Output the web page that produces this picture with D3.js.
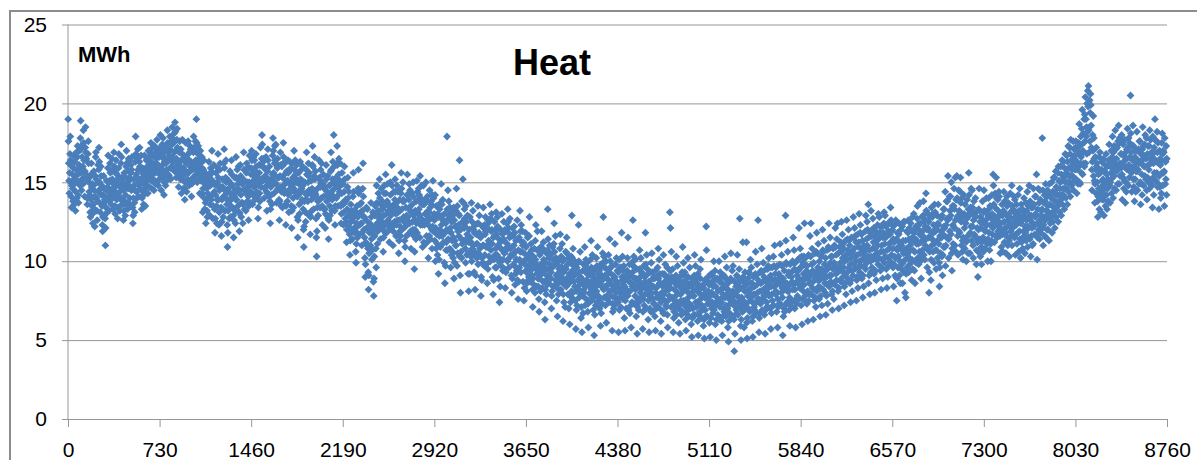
<!DOCTYPE html>
<html lang="en">

<head>
    <meta charset="UTF-8">
    <title>Heat</title>
    <style>
        body { margin: 0; background: #fff; }
        svg text { font-family: "Liberation Sans", Arial, sans-serif; fill: #000; }
    </style>
</head>

<body>
    <script src="https://d3js.org/d3.v7.min.js"></script>
    <div id="chart"></div>
    <script>
        const WIDTH = 1197
        const HEIGHT = 460
        const PLOT = { LEFT: 68, RIGHT: 1167, TOP: 24.5, BOTTOM: 419 }

        const xTicks = [0, 730, 1460, 2190, 2920, 3650, 4380, 5110, 5840, 6570, 7300, 8030, 8760]
        const yTicks = [0, 5, 10, 15, 20, 25]

        // heat load in MWh, every 2.4 h, one list per 730 h block
        const jan = [
            19.0,17.6,16.2,15.1,14.3,15.6,16.8,17.9,16.4,15.0, 14.1,13.4,14.8,16.0,15.5,14.6,13.8,15.9,16.7,15.2,
            13.6,14.9,16.3,15.4,13.2,14.4,15.8,16.9,15.1,14.0, 16.6,17.3,15.5,14.2,13.7,15.0,16.1,17.0,15.9,14.8,
            17.8,18.9,17.1,15.6,14.5,15.2,16.6,17.4,16.0,14.9, 18.3,17.5,16.4,15.3,14.1,15.7,17.2,18.5,16.9,15.5,
            16.5,15.2,14.0,13.6,15.1,16.8,17.6,16.2,15.0,14.4, 15.3,14.2,13.1,12.8,13.9,15.5,16.2,14.7,13.5,14.9,
            13.0,12.4,13.6,14.8,15.7,14.5,13.3,12.2,14.1,15.4, 16.6,16.9,15.2,14.0,13.2,12.6,13.8,15.0,16.1,14.4,
            15.8,17.2,16.3,15.0,13.7,13.1,14.6,16.0,15.4,14.2, 14.8,13.5,12.3,11.9,12.8,14.2,15.4,14.6,13.7,12.9,
            13.9,12.7,11.0,12.1,13.4,14.5,15.1,14.0,13.1,14.7, 15.9,16.7,15.0,14.1,13.2,13.8,15.1,16.2,15.6,14.3,
            14.5,13.6,14.2,15.7,16.5,15.2,14.0,13.3,14.9,15.8, 16.9,16.0,14.7,13.5,13.0,14.4,15.6,16.4,15.1,13.9,
            15.5,14.2,12.7,13.4,14.8,15.9,16.8,15.3,14.1,13.2, 14.4,13.5,14.9,16.2,17.4,16.6,15.3,14.6,13.8,15.0,
            13.9,12.6,13.2,14.5,15.6,14.8,13.6,12.9,14.2,15.3, 16.0,17.0,16.2,14.8,13.7,13.3,14.6,15.7,16.5,15.1,
            16.4,15.3,14.0,13.6,14.7,16.1,15.6,14.5,15.8,16.6, 14.6,13.4,12.4,12.9,14.0,15.2,14.8,13.7,13.1,14.5,
            16.3,17.9,16.8,15.5,14.4,14.0,15.3,16.5,17.1,15.8, 15.0,14.1,14.8,16.3,17.2,16.0,15.2,14.6,15.9,16.7,
            14.5,13.3,14.0,15.6,15.9,15.1,14.2,13.6,14.9,15.4, 16.7,15.8,14.6,13.5,14.3,15.5,16.4,15.1,14.8,16.0,
            15.3,14.3,15.6,17.0,16.6,15.4,14.7,16.1,16.9,15.8, 16.9,17.5,16.3,15.1,14.6,15.5,16.7,17.2,16.0,15.2,
            15.7,14.5,15.9,17.3,16.8,15.6,14.9,16.2,16.5,15.0, 16.2,17.7,17.0,15.9,15.1,14.8,16.0,17.1,16.6,15.5
        ]
        const feb = [
            15.6,16.9,18.0,17.2,15.9,14.5,15.3,16.6,17.4,16.1, 16.8,17.8,16.6,15.4,14.2,15.0,16.3,17.1,15.7,14.8,
            17.3,16.2,15.1,15.8,17.0,18.3,17.5,16.4,15.5,16.9, 16.5,15.4,16.7,17.9,17.1,15.9,15.2,16.4,17.6,16.0,
            17.4,18.5,17.8,16.6,15.8,16.3,17.5,18.1,16.9,15.7, 18.8,18.2,17.0,15.9,15.3,16.5,17.7,18.4,17.2,16.1,
            17.0,15.8,14.7,15.5,16.9,17.6,16.3,15.2,16.0,17.1, 15.2,14.3,15.6,16.8,17.7,16.5,15.4,14.6,15.9,16.7,
            15.8,14.6,13.9,15.0,16.4,17.5,16.2,15.1,14.4,15.6, 16.4,15.2,16.5,17.6,16.8,15.6,14.8,15.7,16.9,17.3,
            16.0,17.1,16.3,15.0,14.1,14.9,16.2,17.0,15.8,15.3, 16.9,17.9,17.2,16.0,15.1,15.9,17.0,17.6,16.4,15.5,
            19.0,17.5,16.2,15.0,15.7,16.8,17.3,16.1,15.2,16.5, 15.5,14.3,15.8,17.0,16.2,15.1,14.2,15.4,16.6,15.9,
            14.3,13.1,14.6,15.8,16.4,15.2,14.0,13.3,14.9,15.6, 13.7,12.4,13.9,15.1,14.6,13.2,12.8,14.3,15.4,14.0,
            15.0,16.3,15.4,14.1,12.9,13.6,14.8,15.9,15.2,13.9, 15.7,17.0,15.6,14.2,12.7,13.5,14.9,16.1,15.0,14.4,
            13.3,11.8,12.7,14.2,15.6,14.8,13.5,12.4,13.9,15.0, 15.9,16.8,15.3,13.9,12.3,13.1,14.5,15.8,16.2,14.7,
            14.6,13.4,11.6,12.5,13.9,15.2,14.7,13.3,12.8,14.1, 16.2,17.1,15.9,14.5,13.2,14.0,15.3,16.4,15.0,14.3,
            13.6,12.3,10.9,11.8,13.2,14.6,15.1,13.9,12.7,13.8, 15.7,14.3,12.8,13.5,14.9,16.4,15.5,14.0,13.4,14.8,
            14.2,12.9,11.5,12.6,14.1,15.3,14.5,13.2,12.4,13.9, 16.6,15.3,13.9,14.4,15.8,14.6,13.5,14.9,16.0,15.1,
            13.1,11.9,13.0,14.5,16.1,15.4,14.2,12.8,13.7,15.0, 14.9,13.7,12.4,13.6,15.2,16.9,15.8,14.5,13.3,14.6,
            15.8,14.5,13.2,14.3,15.6,16.2,15.0,13.8,14.7,15.9, 14.1,12.6,13.5,15.0,16.7,15.9,14.8,13.7,14.4,15.5
        ]
        const mar = [
            15.9,17.0,16.4,15.0,13.6,14.2,15.5,16.6,15.8,14.7, 16.4,15.2,13.9,14.1,15.3,16.8,16.0,14.9,14.4,15.6,
            15.3,14.1,12.7,13.4,14.8,16.1,15.6,14.3,13.8,15.0, 17.2,16.1,14.7,15.2,16.5,18.0,17.4,16.0,15.1,16.3,
            16.5,15.3,14.0,14.6,15.9,15.4,14.7,15.8,16.6,15.1, 14.4,13.2,14.3,15.7,17.1,16.4,15.2,14.1,14.9,16.0,
            15.1,13.8,12.4,13.3,14.7,15.2,14.2,13.6,14.8,15.5, 16.7,17.8,17.0,15.6,14.3,15.0,16.2,17.3,16.4,15.4,
            17.4,16.2,14.9,13.7,14.5,15.9,16.5,15.3,14.6,16.0, 15.3,13.9,12.6,13.8,15.4,16.9,16.1,14.7,13.5,14.4,
            16.0,14.7,13.4,14.6,16.2,17.5,16.6,15.2,14.3,15.5, 16.2,14.9,13.6,12.3,13.5,15.0,15.7,14.4,13.8,15.1,
            16.4,15.6,14.2,13.1,14.3,15.7,16.3,15.0,14.6,15.9, 14.8,13.5,12.1,13.2,14.7,16.2,15.3,14.0,13.4,14.6,
            17.0,15.8,14.4,15.0,16.4,15.5,14.3,15.2,16.1,15.0, 14.1,12.8,11.5,12.6,14.2,15.6,14.9,13.6,13.0,14.5,
            16.3,15.2,13.7,14.4,15.8,14.6,13.9,15.1,16.0,14.8, 13.3,12.0,10.9,12.2,13.8,15.0,14.3,13.1,12.5,13.9,
            15.8,16.9,15.5,14.2,13.0,13.8,15.0,16.2,15.4,14.5, 15.6,14.4,12.9,11.7,12.8,14.3,15.1,13.9,13.2,14.6,
            16.1,17.3,16.0,14.5,13.3,14.1,15.4,16.6,15.2,14.3, 15.7,14.2,12.7,11.5,10.3,11.9,13.4,14.6,13.8,12.9,
            13.9,15.2,16.4,15.3,13.9,13.4,14.7,15.8,14.9,14.0, 16.2,15.0,13.5,12.3,13.4,14.9,15.5,14.1,13.3,14.7,
            14.6,13.3,12.1,13.0,14.5,16.1,15.2,13.8,12.9,14.2, 15.4,14.1,12.7,11.4,12.6,14.0,14.8,13.5,12.9,14.3,
            15.7,16.9,15.8,14.4,13.2,13.9,15.2,16.3,15.0,14.1, 18.0,16.0,14.6,13.2,12.3,13.5,14.9,16.1,15.3,14.0,
            16.2,17.3,16.1,14.7,13.5,14.2,15.5,16.5,15.0,14.4, 15.1,16.2,14.8,13.5,12.4,13.0,14.3,15.6,14.9,13.7
        ]
        const apr = [
            14.9,13.6,12.3,13.1,14.4,16.0,15.2,13.8,12.7,13.9, 13.8,12.5,11.2,12.0,13.3,14.7,15.3,14.0,12.9,12.2,
            14.4,13.1,11.7,10.4,11.3,12.8,13.6,12.5,11.9,13.2, 12.6,11.4,12.7,14.1,15.6,14.4,13.2,12.1,11.8,13.0,
            13.2,11.9,10.6,9.9,11.1,12.4,13.5,12.2,11.5,12.8, 14.6,15.8,14.3,12.9,11.7,12.3,13.6,14.5,13.1,12.4,
            13.7,12.4,11.0,11.8,13.2,14.6,16.2,14.1,12.8,12.0, 12.8,11.5,10.2,9.0,9.8,11.2,12.6,13.4,12.1,11.0,
            13.3,12.1,10.8,9.3,8.2,9.1,10.5,11.8,12.4,10.9, 11.0,12.3,13.7,12.8,11.4,10.1,10.7,12.0,13.1,11.7,
            8.7,7.8,8.9,10.3,11.6,12.9,13.5,12.2,10.8,9.6, 14.8,13.7,12.4,11.1,11.9,13.2,14.3,13.0,12.0,12.7,
            15.2,14.0,12.7,11.4,12.2,13.6,14.6,13.3,12.5,13.8, 13.3,12.0,10.6,11.5,12.9,14.3,14.8,13.5,12.3,11.8,
            15.5,14.3,13.0,11.8,12.5,13.8,14.9,13.6,12.6,13.2, 13.6,12.4,11.2,12.1,13.5,15.0,14.2,12.9,12.0,13.3,
            16.1,14.8,13.5,12.2,11.0,11.9,13.2,14.4,13.6,12.5, 13.9,15.2,14.4,13.0,11.6,12.3,13.7,14.8,13.4,12.6,
            14.4,13.1,11.8,10.5,11.3,12.6,13.9,13.2,12.2,11.6, 14.3,15.6,14.6,13.3,12.0,12.6,13.8,15.0,13.9,12.8,
            13.8,12.5,11.3,10.0,10.9,12.2,13.4,12.7,11.6,12.9, 14.2,15.5,14.2,12.8,11.7,12.5,13.9,14.9,13.4,12.4,
            14.5,13.2,11.9,10.8,11.8,13.1,14.3,13.6,12.5,12.0, 15.0,14.1,12.9,11.6,9.5,10.6,12.0,13.2,12.6,11.4,
            13.8,12.4,15.1,11.8,14.4,13.1,12.6,13.9,14.6,13.3, 14.2,12.9,11.5,15.4,12.3,14.0,13.7,12.7,14.8,13.6,
            12.3,10.9,13.6,12.5,14.8,11.2,13.6,12.3,13.8,13.0, 13.9,11.1,15.0,12.6,11.6,13.8,12.5,14.1,12.9,13.2,
            10.2,11.3,13.1,11.6,14.5,12.2,13.4,11.4,12.7,13.8, 13.6,12.0,10.8,14.2,12.2,15.1,11.9,14.0,12.8,13.0
        ]
        const may = [
            12.6,11.3,14.2,10.0,12.1,10.8,13.5,12.9,11.7,11.1, 10.4,13.0,11.7,9.2,12.8,10.1,11.6,13.3,12.0,10.9,
            13.7,11.0,14.9,12.3,13.6,11.6,12.9,13.9,12.6,11.8, 11.2,12.5,9.9,13.0,8.6,11.8,9.7,12.4,10.7,11.2,
            12.0,17.9,13.3,10.7,14.5,11.4,12.7,13.8,12.9,11.9, 10.8,13.4,12.1,9.6,11.8,13.1,10.4,12.5,11.3,10.6,
            12.9,10.2,11.5,13.4,8.9,12.6,9.9,11.3,12.2,11.0, 13.2,11.0,14.6,12.2,9.7,13.5,10.5,11.9,13.0,12.3,
            11.6,12.9,16.4,10.3,9.1,8.0,12.0,10.6,11.4,10.2, 13.8,11.1,12.5,15.2,11.3,13.7,12.4,12.1,13.3,12.7,
            12.2,10.8,9.9,13.5,11.2,12.5,10.4,11.7,12.9,11.5, 9.2,10.5,8.1,11.2,12.0,9.2,12.8,10.6,11.5,10.3,
            11.2,13.7,10.0,12.5,10.8,12.1,13.2,11.0,12.0,10.4, 9.3,11.8,10.6,8.2,12.3,9.1,10.5,11.7,11.1,10.2,
            11.1,12.4,13.5,9.8,12.4,10.5,11.8,12.9,11.6,10.8, 10.3,11.5,7.8,9.0,11.6,8.8,10.2,12.2,11.0,9.9,
            13.4,11.0,12.1,9.7,12.3,10.4,11.7,12.8,11.9,10.9, 9.8,12.3,11.0,8.6,10.9,9.5,12.6,11.3,10.3,12.0,
            12.5,11.2,13.6,10.0,12.7,10.7,11.9,13.0,12.0,11.1, 9.0,10.2,7.9,11.5,8.8,10.1,12.5,11.6,10.4,9.6,
            12.0,10.8,13.1,9.6,11.7,10.4,12.8,12.2,11.0,10.1, 8.9,11.4,10.2,7.4,9.9,8.4,11.2,12.0,10.8,9.7,
            11.9,13.0,10.7,11.7,9.4,10.1,11.4,12.5,11.3,10.5, 9.5,12.0,8.3,10.8,9.3,11.9,10.7,12.4,11.1,10.0,
            13.3,12.5,10.9,12.1,9.6,10.2,11.5,12.7,11.7,10.8, 10.4,11.6,9.1,8.0,10.9,8.9,12.1,11.6,10.4,9.8,
            11.0,12.2,9.7,11.8,8.5,10.6,9.2,11.3,10.1,9.4, 10.1,12.6,8.8,11.4,7.6,10.7,8.7,11.5,9.6,10.1,
            13.2,10.6,11.9,9.3,12.3,9.9,11.2,10.6,11.9,11.0, 8.7,11.2,10.0,7.5,10.5,8.3,9.8,11.0,11.8,9.4
        ]
        const jun = [
            10.9,9.3,8.1,8.6,10.2,11.5,9.7,8.8,10.4,9.0, 11.6,12.8,10.5,9.4,8.7,10.0,11.1,9.8,10.7,9.5,
            9.1,8.2,7.1,8.9,10.3,9.6,8.5,10.8,9.9,8.0, 11.3,10.1,12.3,9.6,8.4,9.2,10.7,11.9,9.4,8.9,
            8.4,9.7,7.6,6.8,8.9,10.4,9.3,8.1,10.9,9.5, 10.6,11.9,9.2,8.3,9.9,10.8,8.7,11.2,10.1,9.4,
            9.6,7.4,6.3,8.2,9.9,8.8,7.9,10.5,9.1,8.5, 10.7,13.3,11.4,9.5,8.6,10.2,9.0,11.0,9.8,10.5,
            10.4,8.9,9.3,7.0,7.8,8.1,9.6,10.9,8.4,10.1, 9.7,11.1,12.4,10.6,9.8,8.5,11.6,8.8,10.2,9.1,
            7.5,8.3,9.8,6.5,9.2,10.0,7.9,8.6,9.5,8.8, 9.3,10.8,11.7,9.0,8.2,10.3,9.6,8.7,11.1,10.0,
            8.9,6.2,7.9,9.3,7.4,10.1,8.5,9.6,7.1,8.8, 10.6,9.5,8.4,11.5,10.5,8.7,9.8,7.9,9.0,10.2,
            7.0,8.6,9.2,6.0,7.8,9.9,7.4,8.9,10.3,8.1, 12.9,10.2,9.4,8.0,10.8,7.6,9.7,8.7,9.1,10.0,
            8.4,7.5,9.2,5.7,8.1,6.9,9.6,7.2,9.9,8.8, 9.9,8.2,12.3,10.0,7.7,9.3,8.5,10.6,9.0,7.9,
            6.4,7.1,8.9,5.5,8.6,7.8,9.4,6.7,9.8,8.2, 8.0,9.8,10.9,7.2,8.4,9.3,10.1,7.6,8.8,9.6,
            9.9,8.6,6.8,7.3,5.8,9.1,7.5,8.4,9.4,8.0, 7.9,10.1,8.7,11.3,9.6,7.5,8.2,10.4,9.2,8.6,
            6.9,9.0,7.7,5.3,8.3,6.6,9.5,8.0,7.2,8.8, 10.2,8.1,9.7,7.4,10.9,8.5,9.2,7.8,8.9,9.5,
            9.4,7.0,7.6,8.6,5.9,9.8,6.7,8.4,9.1,7.3, 8.8,10.5,9.9,12.8,8.2,10.3,7.7,9.6,9.1,8.4,
            7.2,8.3,10.0,6.1,9.5,8.9,7.6,8.5,9.2,7.9, 10.4,8.8,7.4,9.3,11.4,8.1,10.0,8.6,9.6,7.8,
            8.5,9.7,5.6,7.3,6.8,9.1,8.2,7.0,8.9,7.7, 9.0,11.1,8.3,9.8,7.3,8.0,10.2,8.7,7.6,9.4
        ]
        const jul = [
            8.6,7.4,9.3,5.5,8.3,10.1,6.9,7.7,9.6,8.0, 7.1,9.6,8.2,11.8,9.0,8.8,10.3,7.6,9.4,8.5,
            9.7,7.9,6.4,8.4,5.6,7.5,8.8,9.1,7.0,8.2, 8.1,9.4,10.2,7.8,11.5,8.9,6.9,9.2,8.7,9.8,
            6.7,8.1,9.1,7.2,5.8,8.6,9.9,7.4,8.4,9.3, 12.6,9.7,8.5,10.3,7.3,8.9,9.6,7.8,10.1,8.2,
            8.9,6.5,7.7,9.5,5.4,7.1,8.4,8.7,7.5,6.9, 7.4,9.5,10.7,8.3,9.0,8.0,10.2,7.7,8.6,9.3,
            9.2,8.3,5.7,6.8,7.6,9.7,8.5,7.2,9.0,7.9, 8.7,11.8,9.8,7.0,9.1,10.4,8.2,9.5,7.9,8.4,
            6.3,7.5,8.7,5.5,8.2,7.0,9.3,7.8,8.5,6.8, 9.9,8.0,10.5,9.3,6.8,8.9,7.6,8.4,7.3,9.0,
            7.3,8.9,6.5,9.4,5.6,8.0,8.3,7.0,9.0,7.7, 8.4,9.6,7.1,10.8,8.9,7.7,10.1,8.6,9.2,7.9,
            8.6,6.2,7.4,5.4,6.9,8.0,9.2,7.6,8.4,6.7, 10.4,7.9,9.2,6.7,8.7,7.5,9.8,8.1,7.2,9.0,
            7.1,8.4,9.6,6.6,5.8,7.5,9.0,8.2,8.8,7.8, 8.6,13.1,9.4,12.1,8.3,7.1,10.6,9.0,7.7,8.9,
            9.5,7.6,5.5,8.8,6.4,6.8,8.2,7.3,8.6,7.0, 7.8,9.1,10.3,6.6,8.5,7.4,9.7,8.0,7.1,8.8,
            6.1,8.5,7.3,9.0,5.4,6.9,7.9,7.5,8.3,6.6, 8.0,9.3,6.8,10.9,8.7,7.5,9.9,8.3,7.2,9.1,
            9.3,7.5,6.3,8.7,5.6,6.7,8.1,7.1,8.5,6.9, 10.2,9.0,7.7,6.5,8.4,7.3,9.6,7.9,7.0,8.6,
            7.2,6.0,8.4,5.2,8.9,6.4,7.8,7.0,8.1,6.6, 7.8,9.1,10.4,8.6,6.6,9.7,7.4,8.2,7.1,8.9,
            8.6,7.4,6.2,9.2,5.3,6.6,8.0,7.2,8.4,6.8, 9.5,8.9,7.6,10.1,6.4,8.3,7.2,7.8,6.9,8.5,
            7.1,5.9,8.3,6.3,5.1,7.7,8.8,6.9,8.0,6.5, 12.2,10.7,8.9,7.7,6.5,7.3,9.0,8.1,7.5,8.6
        ]
        const aug = [
            8.5,6.1,7.3,5.2,7.8,6.4,9.2,8.0,7.0,8.7, 7.4,9.1,6.7,8.4,7.9,10.0,6.9,8.8,7.2,9.4,
            6.0,8.4,7.2,5.0,6.3,7.7,8.9,7.5,6.6,8.1, 8.8,7.5,10.0,6.3,8.7,7.1,9.3,8.2,7.6,9.0,
            7.4,6.2,8.6,5.3,6.5,7.9,8.3,7.0,9.1,6.8, 9.0,10.3,7.7,8.9,6.5,7.2,8.5,9.6,7.9,8.2,
            7.0,5.8,8.2,4.9,6.2,7.6,8.7,6.7,7.9,7.3, 8.9,10.5,7.6,8.8,6.4,9.4,7.3,8.1,9.7,7.8,
            7.5,6.3,4.3,8.7,5.4,6.6,8.0,7.1,8.4,6.9, 9.1,7.8,10.4,9.0,6.6,7.4,8.6,8.2,9.5,7.7,
            12.7,8.3,7.1,5.9,5.0,6.3,7.7,8.8,7.4,6.8, 11.2,9.0,7.5,8.4,5.8,6.9,8.1,9.3,7.2,8.6,
            8.5,7.3,11.2,6.1,5.1,6.4,7.8,8.9,7.0,8.2, 9.3,8.0,9.2,6.8,7.5,10.1,8.6,7.7,9.6,8.3,
            8.6,6.2,7.4,5.2,6.5,7.9,9.0,7.1,8.4,6.9, 7.9,9.2,10.6,6.7,9.1,7.4,8.5,9.8,8.0,7.6,
            12.6,8.8,7.6,5.5,6.4,6.7,8.1,9.3,7.3,8.6, 9.4,8.1,10.8,9.3,6.9,7.6,8.7,9.9,8.2,7.8,
            9.0,6.6,7.8,5.4,8.3,6.9,9.5,8.7,7.4,7.1, 8.0,9.5,7.1,9.7,8.3,10.2,7.8,8.9,9.6,8.5,
            7.0,9.1,5.7,8.4,6.7,7.9,9.6,7.5,8.8,7.2, 10.3,7.2,9.7,8.4,11.0,8.8,9.2,7.9,8.1,9.6,
            8.5,6.8,9.7,8.0,5.8,7.6,7.1,8.9,9.2,7.3, 8.7,9.8,11.1,7.3,8.5,9.0,8.0,10.4,9.7,8.3,
            7.7,5.3,8.9,6.5,8.2,7.0,9.4,6.8,8.6,7.2, 12.9,11.3,9.9,9.8,8.6,7.4,8.1,10.6,8.4,9.1,
            9.3,8.1,6.9,7.7,5.9,9.8,7.2,8.6,7.4,9.0, 9.3,7.5,8.7,10.0,8.2,11.5,9.9,8.5,10.7,9.5,
            7.0,8.2,9.9,5.8,7.6,9.4,7.3,8.7,9.1,7.8, 8.6,10.1,9.4,8.9,12.1,7.6,10.2,8.3,10.8,9.6
        ]
        const sep = [
            9.6,7.2,8.4,10.3,6.0,8.8,7.6,9.9,8.1,9.2, 10.3,8.5,12.4,9.0,7.8,10.2,8.9,9.7,7.4,9.4,
            7.3,9.7,8.1,6.2,8.9,10.4,7.5,9.2,8.6,7.9, 11.6,9.1,10.3,12.4,8.6,7.9,9.8,10.8,8.3,9.4,
            8.7,6.3,9.9,7.5,9.1,8.2,10.5,7.7,8.9,7.1, 10.6,9.3,11.8,8.1,10.5,8.8,9.6,11.1,9.0,8.4,
            7.6,10.0,8.8,6.5,9.2,7.8,8.3,10.3,9.5,7.2, 9.4,12.0,10.7,8.2,10.6,8.9,11.3,9.1,9.8,8.6,
            8.0,10.2,6.6,9.4,7.8,9.0,10.7,8.5,7.3,9.6, 10.9,9.6,12.4,8.4,10.8,9.1,11.5,9.9,8.7,10.3,
            9.1,7.9,10.3,6.9,8.1,9.5,10.8,8.6,7.6,9.9, 11.0,9.7,8.5,12.1,10.9,9.2,10.4,8.8,11.4,9.5,
            12.4,9.3,8.1,10.5,7.0,8.3,9.7,10.9,8.8,9.4, 9.9,11.2,8.7,12.5,10.6,9.4,11.7,10.2,9.0,11.1,
            9.6,10.8,7.2,8.4,10.0,8.6,11.3,9.2,7.9,10.4, 12.6,10.1,9.3,11.4,8.9,10.7,12.0,9.6,11.3,10.5,
            11.0,8.6,9.8,7.4,8.8,10.2,11.5,9.4,8.1,10.6, 10.4,9.1,12.8,11.5,9.8,10.8,12.1,9.5,11.6,10.3,
            10.0,11.2,7.5,8.8,9.0,10.4,11.7,8.3,9.6,10.9, 11.2,13.0,10.0,9.3,11.8,12.3,10.5,9.7,10.8,11.7,
            8.9,10.1,11.3,7.7,9.1,10.5,8.4,11.0,9.7,10.2, 10.2,11.9,9.5,12.9,10.7,11.4,9.9,12.5,11.0,12.0,
            10.3,13.6,8.6,11.5,9.1,10.7,7.9,11.8,10.0,9.3, 13.2,10.3,11.6,9.6,12.0,10.8,12.7,10.1,11.2,12.1,
            9.2,11.6,8.0,10.4,10.8,9.4,11.9,8.8,10.1,11.3, 10.5,12.3,11.0,9.8,13.0,11.4,10.2,12.8,11.7,12.2,
            11.8,9.4,10.6,8.2,9.6,11.0,12.2,10.1,8.9,11.5, 11.8,10.6,12.4,13.1,9.9,11.1,12.9,10.3,11.5,12.2,
            9.5,11.6,8.3,10.7,12.3,9.0,10.2,11.9,9.7,11.1, 10.8,12.5,11.7,10.0,13.4,11.2,12.6,10.4,11.9,12.3
        ]
        const oct = [
            12.0,10.8,9.6,11.4,8.4,9.8,11.2,10.3,12.3,9.1, 10.2,12.6,9.0,11.4,7.5,8.9,10.7,11.8,9.6,10.9,
            10.3,11.7,12.4,9.1,11.2,10.0,8.6,10.8,12.0,9.5, 11.0,9.8,12.2,8.6,9.9,11.3,10.5,12.5,9.3,10.7,
            12.5,8.0,10.1,11.3,7.7,9.2,10.8,11.9,9.6,10.4, 10.5,11.8,12.6,9.3,11.4,10.2,12.1,9.8,11.0,10.7,
            12.4,10.0,11.2,8.8,10.1,11.5,12.8,9.5,10.7,11.9, 13.0,11.8,9.4,10.6,8.6,10.0,11.4,12.2,9.9,11.1,
            11.3,12.7,13.5,10.2,12.3,11.1,9.8,12.0,10.6,11.7, 13.7,12.4,10.0,11.2,8.9,10.3,11.6,12.8,10.7,11.9,
            11.6,12.9,13.8,10.4,12.5,11.3,10.1,12.2,11.0,12.6, 14.3,13.2,10.8,12.0,9.6,10.8,12.1,13.0,11.5,12.5,
            8.0,9.3,10.6,11.9,12.8,11.5,8.8,10.1,13.4,11.0, 11.4,12.8,13.0,10.6,11.8,12.3,9.9,11.1,13.6,12.0,
            13.1,11.9,10.7,9.5,10.7,12.0,12.9,11.3,10.2,12.4, 13.6,12.3,11.1,9.9,8.4,9.6,11.6,12.8,10.5,11.9,
            12.7,11.5,10.3,12.9,9.1,10.4,11.7,13.3,10.9,12.2, 13.3,12.1,10.9,14.4,9.7,11.0,12.3,13.8,11.5,12.7,
            13.8,12.6,15.4,11.4,10.2,11.4,12.7,14.1,11.9,13.2, 14.1,12.9,11.7,15.0,10.5,9.4,10.8,13.5,12.3,11.1,
            12.2,13.5,14.6,13.3,12.1,11.0,15.3,12.6,10.6,13.9, 13.9,15.4,14.0,12.8,11.6,10.4,12.9,14.5,11.9,13.2,
            11.8,13.1,14.4,15.3,13.7,12.5,11.0,12.7,14.0,10.6, 11.3,10.1,11.5,12.9,14.2,13.0,12.1,10.8,13.6,12.4,
            12.4,11.2,10.0,11.3,12.7,13.9,12.9,11.6,10.5,13.3, 15.6,14.2,12.9,11.7,10.5,11.8,13.4,12.2,14.6,11.3,
            13.1,14.5,13.4,12.2,11.0,10.2,12.6,13.8,11.7,12.9, 11.6,12.9,14.0,12.8,11.5,9.8,10.7,13.2,12.1,11.2,
            9.0,10.6,12.0,13.3,14.6,13.2,11.4,12.5,10.3,12.8, 12.1,10.9,9.8,11.2,12.6,13.8,12.4,11.5,10.6,13.1
        ]
        const nov = [
            14.5,13.2,12.0,10.8,11.9,13.1,12.6,11.3,14.0,12.3, 12.3,11.1,10.0,11.4,12.8,14.0,13.3,11.8,10.7,12.9,
            13.5,12.3,11.1,10.0,11.3,12.7,14.2,13.0,11.7,12.1, 15.5,14.8,13.6,12.4,11.2,12.3,13.4,14.3,12.8,11.6,
            15.3,14.0,12.7,11.5,12.6,13.9,11.9,13.2,12.2,14.4, 14.1,12.9,11.6,10.5,11.8,13.0,12.4,10.9,12.0,13.6,
            12.9,11.7,10.6,11.9,13.2,14.4,12.5,11.2,13.8,12.1, 13.0,11.8,10.5,11.6,12.9,14.1,13.5,12.2,11.0,12.6,
            13.7,12.5,11.3,10.3,11.5,12.8,14.3,13.1,11.9,12.2, 12.2,14.8,11.0,13.5,12.1,11.6,13.3,12.7,14.1,12.4,
            11.5,13.9,12.7,10.4,13.0,11.7,12.3,13.6,11.1,12.9, 13.0,11.8,14.2,12.5,10.6,13.2,11.9,14.6,11.4,12.8,
            10.2,12.4,13.6,11.2,12.6,11.4,13.3,10.8,12.9,11.9, 12.8,14.0,11.6,13.1,10.5,12.2,11.8,13.7,11.3,12.6,
            13.2,12.0,14.4,10.9,12.2,13.5,11.5,12.7,14.8,12.9, 11.4,13.8,12.6,10.3,12.9,11.6,13.4,12.1,11.0,12.4,
            13.4,11.1,14.6,12.2,13.6,12.3,11.7,14.1,12.8,13.0, 14.1,12.9,15.5,11.7,10.1,11.5,13.3,12.4,14.6,12.0,
            12.5,13.7,11.4,14.5,12.6,13.9,11.8,12.9,13.2,12.2, 13.3,17.8,12.1,14.5,11.0,12.3,13.7,12.8,14.2,11.6,
            13.8,12.6,14.9,11.5,13.2,12.8,14.1,12.0,14.5,13.5, 12.0,14.3,13.1,11.3,14.9,12.7,13.6,12.4,14.2,13.0,
            14.0,12.9,15.0,11.8,13.5,14.4,12.5,13.0,15.3,13.9, 13.2,15.3,12.1,14.3,13.8,15.7,12.8,14.7,13.4,14.2,
            14.6,13.5,15.6,12.5,16.0,13.8,15.1,14.2,13.1,14.6, 15.0,16.0,13.9,12.9,15.5,14.2,16.4,13.6,15.1,14.6,
            14.2,16.3,15.3,13.3,15.9,14.6,16.8,15.0,14.0,15.5, 15.6,16.7,14.6,13.6,16.3,15.0,17.3,14.4,15.9,15.4,
            17.2,15.0,16.8,14.1,17.7,15.4,16.0,14.8,15.8,16.4, 15.4,16.5,17.6,14.5,16.2,17.1,15.1,16.7,15.8,17.2
        ]
        const dec = [
            16.4,17.6,15.2,16.3,14.3,15.8,17.0,16.0,14.9,16.8, 17.5,16.0,18.7,15.0,17.3,14.9,16.2,17.9,16.6,15.6,
            18.4,16.8,19.6,15.5,17.0,18.1,16.2,17.5,19.0,16.0, 19.3,17.6,20.4,16.2,19.0,17.9,18.5,16.8,20.0,18.2,
            20.8,19.8,21.1,18.3,16.9,18.5,20.2,17.6,19.4,20.6, 19.9,18.6,17.2,15.8,14.5,16.3,18.0,17.0,19.2,15.4,
            17.8,16.5,15.1,13.7,14.9,16.6,15.8,14.3,17.2,16.0, 16.2,15.0,13.8,12.8,14.1,15.5,14.6,16.6,13.3,15.8,
            16.9,15.6,14.3,13.1,14.4,15.8,16.3,13.9,15.1,14.8, 15.2,16.5,13.9,12.9,14.2,15.7,14.6,16.1,13.5,15.0,
            16.8,14.2,15.5,13.3,16.0,14.6,15.2,13.8,16.4,14.9, 17.4,16.1,14.8,13.7,15.0,16.4,15.6,17.0,14.3,15.9,
            16.6,17.9,15.3,14.0,16.9,15.4,17.3,14.6,16.2,15.8, 18.3,15.8,17.1,14.5,16.5,15.7,17.2,16.0,14.9,17.6,
            17.4,18.6,16.1,14.9,17.8,16.2,15.4,17.6,16.8,15.9, 16.8,18.0,15.5,13.9,16.2,15.3,17.4,16.7,14.6,16.0,
            15.1,17.7,16.4,13.7,16.9,15.0,14.4,16.5,17.1,15.8, 18.4,16.0,17.2,14.8,17.8,16.1,15.3,17.5,16.6,15.7,
            20.5,18.1,16.9,15.6,14.4,15.9,17.3,16.4,18.6,15.2, 17.3,14.7,16.0,13.8,16.6,15.2,17.0,14.4,15.7,16.3,
            17.0,18.2,15.7,14.5,16.4,15.8,17.1,16.2,14.9,17.6, 16.3,17.6,15.0,13.6,16.8,14.9,16.4,15.5,14.2,17.1,
            18.5,16.1,17.3,14.8,16.7,16.0,17.4,15.4,18.0,16.5, 15.2,16.5,17.8,14.5,13.9,16.8,15.3,17.3,16.1,15.0,
            15.8,17.3,14.6,18.3,16.5,15.1,17.7,16.2,14.9,16.9, 14.8,16.6,13.4,17.9,15.3,16.2,14.2,17.2,15.6,16.9,
            19.0,17.7,16.4,15.1,16.3,17.6,15.6,18.2,16.9,14.7, 17.5,14.9,16.2,13.3,15.4,17.0,14.7,16.5,16.1,14.0,
            16.3,14.3,17.5,15.6,18.1,16.8,14.8,17.0,15.6,16.9, 15.7,13.5,17.8,16.4,14.9,16.3,15.2,17.3,14.2,16.5
        ]
        const blocks = [jan, feb, mar, apr, may, jun, jul, aug, sep, oct, nov, dec]
        const BLOCK_HOURS = 730

        const points = blocks.flatMap((vals, k) =>
            vals.map((v, i) => ({ hour: k * BLOCK_HOURS + (i + 0.5) * BLOCK_HOURS / vals.length, mwh: v })))

        const svg = d3.select("#chart")
            .append("svg")
            .attr("width", WIDTH)
            .attr("height", HEIGHT)

        const x = d3.scaleLinear()
            .domain([0, 8760])
            .range([PLOT.LEFT, PLOT.RIGHT])

        const y = d3.scaleLinear()
            .domain([0, 25])
            .range([PLOT.BOTTOM, PLOT.TOP])

        // outer frame (left + top only, the rest is cropped)
        svg.append("path")
            .attr("d", `M 10,${HEIGHT} V 11 H ${WIDTH}`)
            .attr("fill", "none")
            .attr("stroke", "#8c8c8c")
            .attr("stroke-width", 2)

        // y grid lines, with the little outward ticks, and labels
        const yAxisCall = d3.axisLeft(y)
            .tickValues(yTicks)
            .tickSizeInner(-(PLOT.RIGHT - PLOT.LEFT + 6))
            .tickSizeOuter(0)
            .tickPadding(15)

        const yAxis = svg.append("g")
            .attr("class", "y axis")
            .attr("transform", `translate(${PLOT.LEFT - 6}, 0)`)
            .call(yAxisCall)
        yAxis.select(".domain").remove()
        yAxis.selectAll("line").attr("stroke", "#979797")
        yAxis.selectAll("text")
            .attr("font-size", 21)
            .attr("fill", "#000")

        // x axis
        const xAxisCall = d3.axisBottom(x)
            .tickValues(xTicks)
            .tickFormat(d3.format("d"))
            .tickSizeInner(8)
            .tickSizeOuter(0)
            .tickPadding(15)

        const xAxis = svg.append("g")
            .attr("class", "x axis")
            .attr("transform", `translate(0, ${PLOT.BOTTOM})`)
            .call(xAxisCall)
        xAxis.select(".domain").attr("stroke", "#979797")
        xAxis.selectAll("line").attr("stroke", "#979797")
        xAxis.selectAll("text")
            .attr("font-size", 21)
            .attr("fill", "#000")

        // vertical axis line
        svg.append("line")
            .attr("x1", PLOT.LEFT).attr("x2", PLOT.LEFT)
            .attr("y1", y(0)).attr("y2", y(25))
            .attr("stroke", "#979797")

        // points
        const marker = d3.symbol(d3.symbolSquare, 31)()
        svg.append("g")
            .attr("class", "points")
            .selectAll("path")
            .data(points)
            .join("path")
            .attr("d", marker)
            .attr("transform", d => `translate(${x(d.hour)}, ${y(d.mwh)}) rotate(45)`)
            .attr("fill", "#4a7ebb")

        svg.append("text")
            .attr("x", 552)
            .attr("y", 75)
            .attr("text-anchor", "middle")
            .attr("font-size", 36)
            .attr("font-weight", "bold")
            .text("Heat")

        svg.append("text")
            .attr("x", 78)
            .attr("y", 62)
            .attr("font-size", 22)
            .attr("font-weight", "bold")
            .text("MWh")
    </script>
</body>

</html>
